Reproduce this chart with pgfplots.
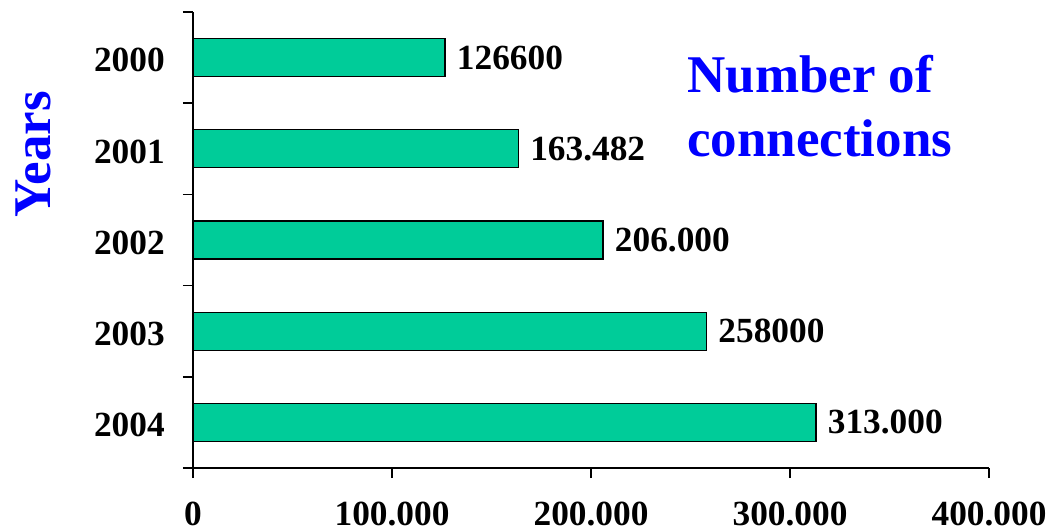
\documentclass[border=0pt]{standalone}
\usepackage{fontspec}
\setmainfont{Liberation Serif}
\usepackage{pgfplots}
\usepackage{pgfplotstable}
\pgfplotsset{compat=1.18}
\definecolor{barfill}{RGB}{0,204,153}
\definecolor{titleblue}{RGB}{0,0,255}
\pgfplotstableread{
y x label
0 126600 126600
1 163482 163.482
2 206000 206.000
3 258000 258000
4 313000 313.000
}\datatable
\begin{document}
\begin{tikzpicture}
\path[use as bounding box] (0,0) rectangle (787.5pt,398.25pt);
\begin{axis}[
  at={(144.75pt,47.25pt)}, anchor=south west,
  scale only axis, width=597pt, height=342pt,
  xmin=0, xmax=400000, ymin=-0.5, ymax=4.5, y dir=reverse,
  axis x line*=bottom, axis y line*=left,
  axis line style={-, line width=1.2pt, black},
  xtick={0,100000,200000,300000,400000},
  xticklabels={0,100.000,200.000,300.000,400.000},
  scaled x ticks=false,
  ytick={0,1,2,3,4}, yticklabels={2000,2001,2002,2003,2004},
  minor ytick={-0.5,0.5,1.5,2.5,3.5,4.5},
  tick align=outside,
  major tick length=7.5pt, minor tick length=7.5pt,
  major y tick style={draw=none},
  x tick style={line width=1.2pt, black},
  minor y tick style={line width=1.2pt, black},
  tick label style={font=\fontsize{26.5}{30}\selectfont\bfseries, inner sep=0pt},
  xticklabel style={anchor=north, yshift=-17.5pt},
  yticklabel style={anchor=east, xshift=-13.5pt, yshift=-2pt},
  xbar, bar width=28.5pt,
  point meta=explicit symbolic,
  nodes near coords,
  every node near coord/.append style={anchor=west, inner sep=0pt, xshift=8.5pt, font=\fontsize{26.5}{30}\selectfont\bfseries, black},
  clip=false,
]
\addplot[fill=barfill, draw=black, line width=1pt] table[x=x, y=y, meta=label] {\datatable};
\end{axis}
\node[inner sep=0pt, anchor=base west, text=titleblue, font=\fontsize{39.75}{48}\selectfont\bfseries] at (515.25pt,328.5pt) {Number of};
\node[inner sep=0pt, anchor=base west, text=titleblue, font=\fontsize{39.75}{48}\selectfont\bfseries] at (515.25pt,280.5pt) {connections};
\node[inner sep=0pt, anchor=base, rotate=90, text=titleblue, font=\fontsize{39.75}{48}\selectfont\bfseries] at (37.5pt,282.4pt) {Years};
\end{tikzpicture}
\end{document}
